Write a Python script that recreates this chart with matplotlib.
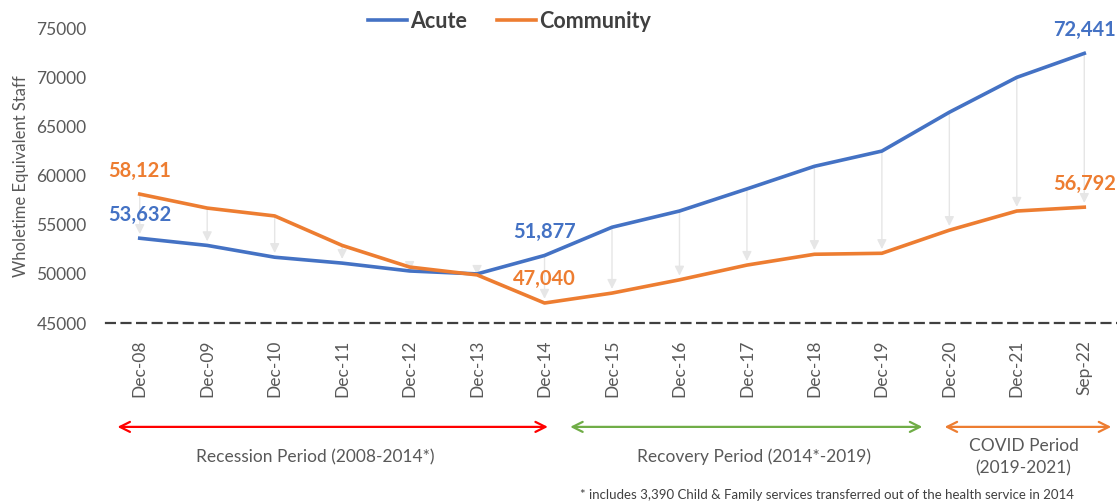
import matplotlib
matplotlib.use("Agg")
import matplotlib.pyplot as plt
import matplotlib.transforms as mtransforms

plt.rcParams['font.family'] = ['Lato', 'DejaVu Sans']

periods = ["Dec-08", "Dec-09", "Dec-10", "Dec-11", "Dec-12", "Dec-13", "Dec-14",
           "Dec-15", "Dec-16", "Dec-17", "Dec-18", "Dec-19", "Dec-20", "Dec-21", "Sep-22"]
acute = [53632, 52900, 51700, 51100, 50300, 50000, 51877,
         54750, 56400, 58650, 60950, 62500, 66450, 70000, 72441]
community = [58121, 56700, 55900, 52900, 50700, 49900, 47040,
             48050, 49400, 50900, 52000, 52100, 54450, 56400, 56792]
labelled = [0, 6, 14]

BLUE = "#4472C4"
ORANGE = "#ED7D31"
GREY = "#595959"

fig = plt.figure(figsize=(11.17, 5.04), dpi=100)
ax = fig.add_axes([0.0949, 0.359, 0.906, 0.585])
x = list(range(len(periods)))

# light grey arrows from the higher series down to the lower one
for i in x:
    hi, lo = max(acute[i], community[i]), min(acute[i], community[i])
    ax.annotate("", xy=(i, lo), xytext=(i, hi),
                arrowprops=dict(arrowstyle="-|>", color="#e6e6e6", lw=1.0,
                                mutation_scale=14, shrinkA=0, shrinkB=3),
                zorder=1)

ax.plot(x, acute, color=BLUE, lw=2.6, label="Acute", zorder=3)
ax.plot(x, community, color=ORANGE, lw=2.6, label="Community", zorder=3)

for i in labelled:
    ax.annotate(f"{acute[i]:,}", (i, acute[i]), xytext=(0, 17), textcoords="offset points",
                ha="center", va="center", color=BLUE, fontsize=14.5, fontweight="bold")
    ax.annotate(f"{community[i]:,}", (i, community[i]), xytext=(0, 17), textcoords="offset points",
                ha="center", va="center", color=ORANGE, fontsize=14.5, fontweight="bold")

ax.set_xlim(-0.5, len(periods) - 0.5)
ax.set_ylim(45000, 75000)
ax.set_yticks(range(45000, 75001, 5000))
ax.set_xticks(x)
ax.set_xticklabels(periods, rotation=90)
ax.tick_params(axis="both", length=0, colors=GREY, labelsize=12.5)
ax.tick_params(axis="x", pad=12)
ax.tick_params(axis="y", pad=14)
for s in ["top", "right", "left"]:
    ax.spines[s].set_visible(False)
ax.spines["bottom"].set_linestyle((0, (4, 3)))
ax.spines["bottom"].set_color("#404040")
ax.spines["bottom"].set_linewidth(1.6)
ax.set_ylabel("Wholetime Equivalent Staff", color=GREY, fontsize=12, labelpad=5)

leg = fig.legend(loc="center", bbox_to_anchor=(0.456, 0.958), ncol=2, frameon=False,
                 handlelength=1.8, handletextpad=0.15, columnspacing=1.4,
                 prop=dict(size=15.5, weight="bold"))
for t in leg.get_texts():
    t.set_color("#404040")

# period arrows below the axis
trans = mtransforms.blended_transform_factory(ax.transData, fig.transFigure)
period_bands = [(-0.33, 6.05, "#FF0000", "Recession Period (2008-2014*)", 2.6),
                (6.38, 11.6, "#70AD47", "Recovery Period (2014*-2019)", 9.1),
                (11.93, 14.4, ORANGE, "COVID Period\n(2019-2021)", 13.1)]
for x0, x1, col, txt, xt in period_bands:
    ax.annotate("", xy=(x1, 0.153), xytext=(x0, 0.153), xycoords=trans, textcoords=trans,
                arrowprops=dict(arrowstyle="<->", color=col, lw=1.6, mutation_scale=18,
                                shrinkA=0, shrinkB=0), annotation_clip=False)
    ax.text(xt, 0.093, txt, transform=trans, ha="center",
            va="center", color=GREY, fontsize=12.5, linespacing=1.5)

fig.text(0.74, 0.018, "* includes 3,390 Child & Family services transferred out of the health service in 2014",
         ha="center", va="center", color="#404040", fontsize=9.5)

fig.savefig("out.png", dpi=100)
